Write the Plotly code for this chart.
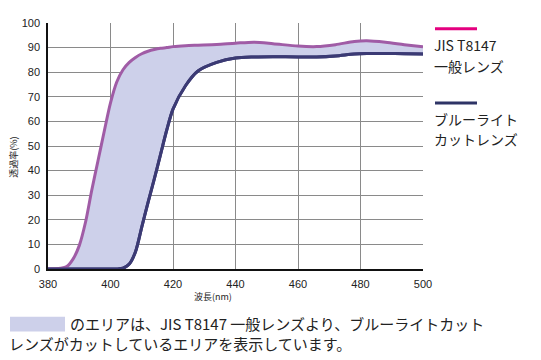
import plotly.graph_objects as go

wavelength = [380, 384, 386, 388, 390, 392, 394, 396, 398, 400, 402, 404, 406, 408, 410, 412,
              414, 416, 418, 420, 424, 428, 434, 440, 446, 452, 460, 466, 472, 478, 482,
              488, 494, 500]
jis_general = [0, 0.3, 1, 4, 9.5, 19, 32, 44, 56, 67.5, 76, 81, 84, 86, 87.5, 88.5,
               89.2, 89.7, 90, 90.4, 90.8, 91, 91.3, 91.8, 92.2, 91.6, 90.6, 90.4, 91.2,
               92.5, 92.8, 92.2, 91.2, 90.3]
bluelight_cut = [0, 0, 0, 0, 0, 0, 0, 0, 0, 0, 0, 0.3, 2, 7, 17, 27,
                 36.5, 46.5, 56.5, 65, 74.5, 80.5, 84, 85.8, 86.2, 86.3, 86.2, 86.2, 86.6,
                 87.4, 87.6, 87.6, 87.5, 87.4]

x_ticks = [380, 400, 420, 440, 460, 480, 500]
y_ticks = [0, 10, 20, 30, 40, 50, 60, 70, 80, 90, 100]

legend_lines = [["JIS T8147", "一般レンズ"], ["ブルーライト", "カットレンズ"]]
note_line1 = "のエリアは、JIS T8147 一般レンズより、ブルーライトカット"
note_line2 = "レンズがカットしているエリアを表示しています。"

JP = "Noto Sans CJK JP"
fig = go.Figure()

line_style = dict(shape="spline", smoothing=0.8, width=3)
fig.add_trace(go.Scatter(x=wavelength, y=bluelight_cut, mode="lines",
                         line=dict(color="#3b3a74", **line_style),
                         hoverinfo="skip", showlegend=False))
fig.add_trace(go.Scatter(x=wavelength, y=jis_general, mode="lines", fill="tonexty",
                         fillcolor="#cdd0ea",
                         line=dict(color="#a05ca6", **line_style),
                         hoverinfo="skip", showlegend=False))
fig.add_trace(go.Scatter(x=wavelength, y=bluelight_cut, mode="lines",
                         line=dict(color="#3b3a74", **line_style),
                         hoverinfo="skip", showlegend=False))

# page body adds an 8px offset; positions below are in window pixels
OFF = 8
W, H = 541 - OFF, 360 - OFF
L, R, T, B = 48, 423, 17, 269
pw, ph = R - L, B - T

def px(xp):
    return (xp - L) / pw

def py(yp):
    return (B - yp) / ph

shapes = [
    dict(type="line", xref="paper", yref="paper", x0=px(435), x1=px(477), y0=py(23), y1=py(23),
         line=dict(color="#e4007f", width=3)),
    dict(type="line", xref="paper", yref="paper", x0=px(435), x1=px(477), y0=py(99), y1=py(99),
         line=dict(color="#2e3466", width=3)),
    dict(type="rect", xref="paper", yref="paper", x0=px(10), x1=px(65), y0=py(333), y1=py(318),
         fillcolor="#cdd0ea", line=dict(width=0)),
]

annotations = []
for (l1, l2), (y1, y2) in zip(legend_lines, [(40, 61), (115, 136)]):
    for txt, yy in ((l1, y1), (l2, y2)):
        annotations.append(dict(text=txt, xref="paper", yref="paper", x=px(433), y=py(yy),
                                xanchor="left", yanchor="middle", showarrow=False,
                                borderpad=0,
                                font=dict(family=JP, size=14, color="#222")))

annotations += [
    dict(text=note_line1, xref="paper", yref="paper", x=px(68), y=py(325),
         xanchor="left", yanchor="middle", showarrow=False,
         font=dict(family=JP, size=15, color="#222")),
    dict(text=note_line2, xref="paper", yref="paper", x=px(7), y=py(345),
         xanchor="left", yanchor="middle", showarrow=False,
         font=dict(family=JP, size=15, color="#222")),
    dict(text="波長(nm)", xref="paper", yref="paper", x=px(213), y=py(297),
         xanchor="center", yanchor="middle", showarrow=False,
         font=dict(family=JP, size=9, color="#222")),
    dict(text="透過率(%)", xref="paper", yref="paper", x=px(14), y=py(155),
         xanchor="center", yanchor="middle", showarrow=False, textangle=-90,
         font=dict(family=JP, size=9, color="#222")),
]

fig.update_layout(
    width=W, height=H,
    margin=dict(l=L - OFF, r=541 - R, t=T - OFF, b=360 - B, pad=0),
    paper_bgcolor="white", plot_bgcolor="white",
    shapes=shapes, annotations=annotations,
    xaxis=dict(range=[380, 500], tickvals=x_ticks, ticktext=[str(v) for v in x_ticks],
               showgrid=True, gridcolor="#8a8a8a", gridwidth=1, zeroline=False,
               showline=True, linecolor="#111", linewidth=1.5, ticks="outside", ticklen=4,
               tickcolor="white",
               tickfont=dict(family="Liberation Sans", size=11, color="#222")),
    yaxis=dict(range=[0, 100], tickvals=y_ticks, ticktext=[str(v) for v in y_ticks],
               showgrid=True, gridcolor="#8a8a8a", gridwidth=1, zeroline=False,
               showline=True, linecolor="#111", linewidth=1.5, ticks="outside", ticklen=4,
               tickcolor="white",
               tickfont=dict(family="Liberation Sans", size=11, color="#222")),
)

fig.write_html("out.html")
